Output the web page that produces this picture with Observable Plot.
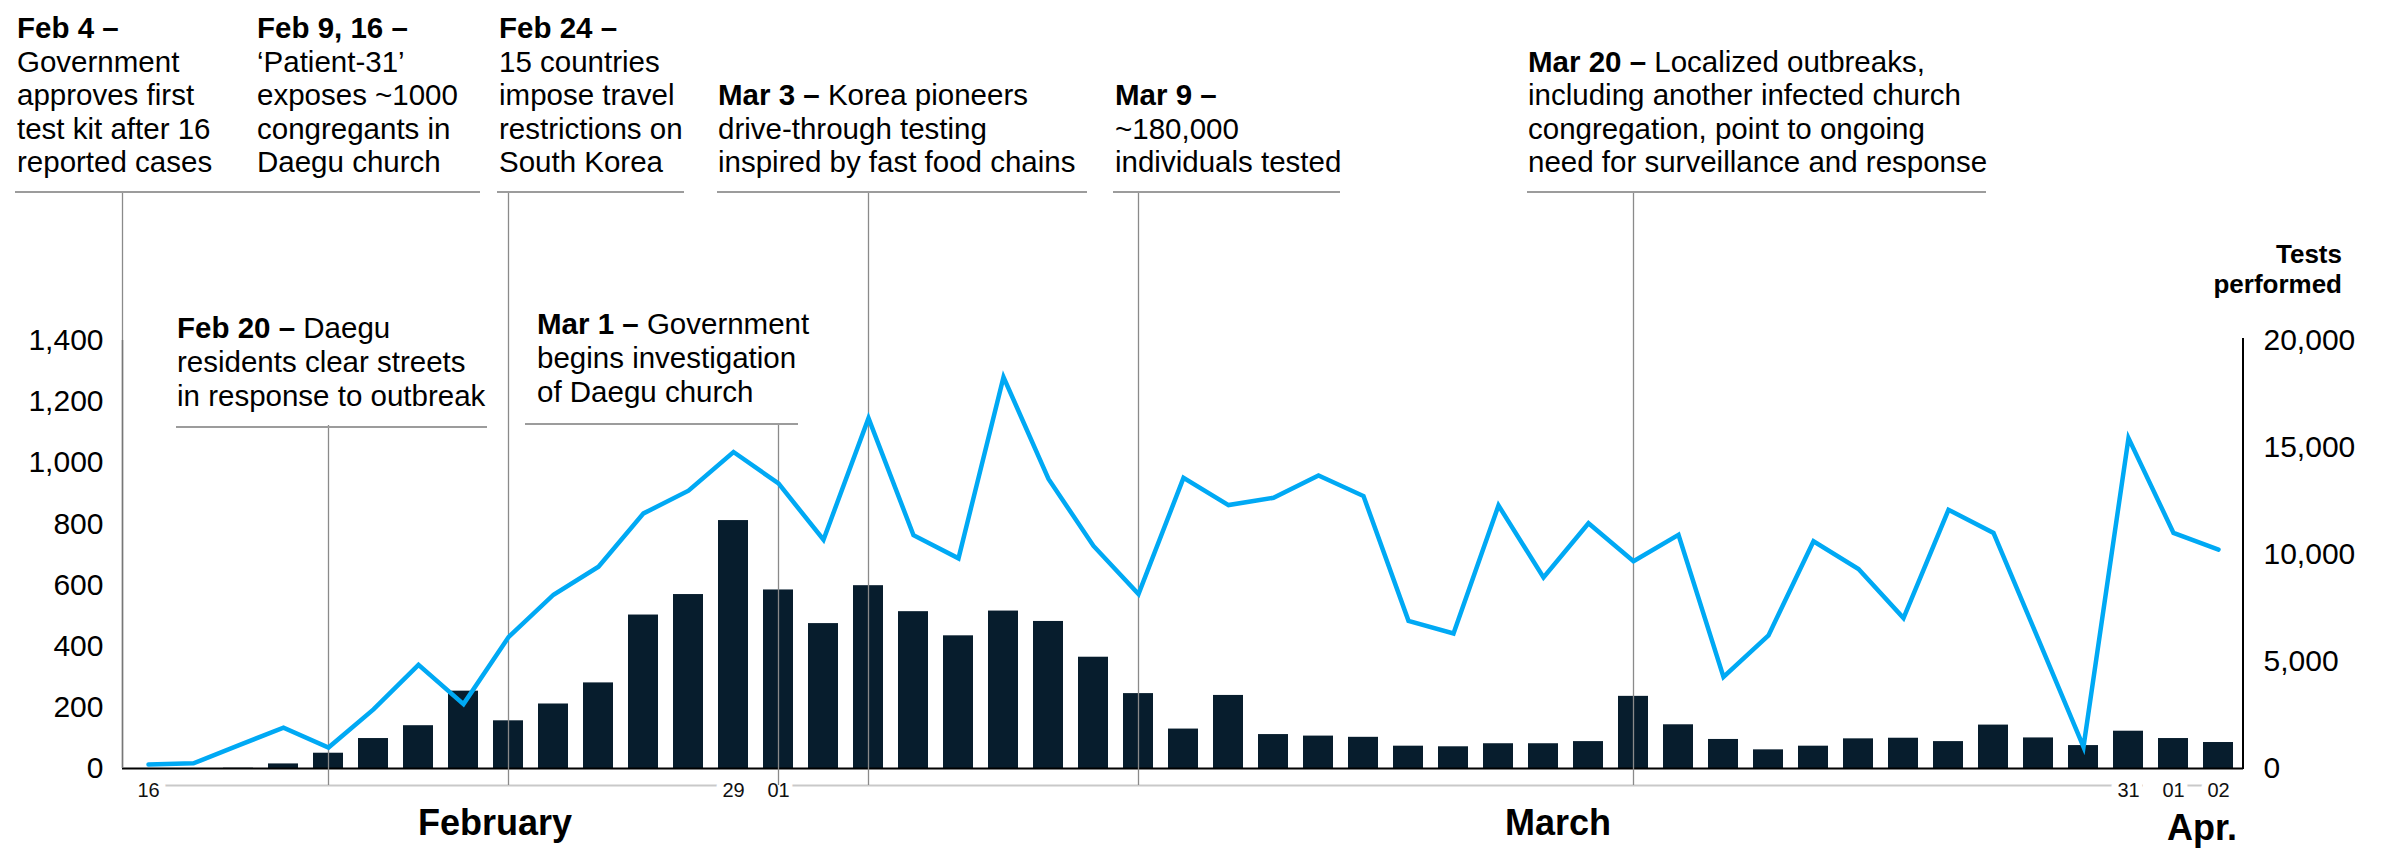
<!DOCTYPE html>
<html>
<head>
<meta charset="utf-8">
<script src="https://cdn.jsdelivr.net/npm/d3@7"></script>
<script src="https://cdn.jsdelivr.net/npm/@observablehq/plot@0.6"></script>
<style>
html, body { margin: 0; padding: 0; background: #fff; }
#chart { position: relative; width: 2382px; height: 848px; font-family: "Liberation Sans", Arial, sans-serif; }
#chart svg { position: absolute; left: 0; top: 0; }
#chart svg text { paint-order: stroke; }
</style>
</head>
<body>
<div id="chart"></div>
<script>
// ---------- data ----------
const dates = [
  "Feb 16","Feb 17","Feb 18","Feb 19","Feb 20","Feb 21","Feb 22","Feb 23","Feb 24","Feb 25","Feb 26","Feb 27","Feb 28","Feb 29",
  "Mar 1","Mar 2","Mar 3","Mar 4","Mar 5","Mar 6","Mar 7","Mar 8","Mar 9","Mar 10","Mar 11","Mar 12","Mar 13","Mar 14","Mar 15",
  "Mar 16","Mar 17","Mar 18","Mar 19","Mar 20","Mar 21","Mar 22","Mar 23","Mar 24","Mar 25","Mar 26","Mar 27","Mar 28","Mar 29",
  "Mar 30","Mar 31","Apr 1","Apr 2"
];
const newCases = [
  0, 0, 1, 15, 50, 98, 140, 253, 156, 211, 280, 502, 569, 811,
  584, 474, 598, 513, 434, 515, 481, 364, 245, 129, 239, 111, 106, 102, 73,
  71, 81, 81, 88, 236, 143, 95, 61, 73, 97, 99, 88, 142, 100,
  75, 122, 98, 85
];
const testsPerformed = [
  190, 240, 1080, 1910, 980, 2760, 4840, 3010, 6140, 8120, 9430, 11920, 12980, 14790,
  13320, 10690, 16370, 10900, 9820, 18290, 13530, 10400, 8150, 13580, 12310, 12650, 13690, 12730, 6900,
  6310, 12290, 8930, 11460, 9690, 10920, 4280, 6220, 10620, 9320, 7030, 12090, 11010, 6020,
  1010, 15440, 11010, 10230
];
const caseTicks = [0, 200, 400, 600, 800, 1000, 1200, 1400];
const testTicks = [0, 5000, 10000, 15000, 20000];
const tickDates = ["Feb 16", "Feb 29", "Mar 1", "Mar 31", "Apr 1", "Apr 2"];
const tickLabels = ["16", "29", "01", "31", "01", "02"];
const monthStarts = ["Feb 16", "Mar 1", "Apr 1"];
const monthEnds = ["Feb 29", "Mar 31", "Apr 2"];
const monthNames = ["February", "March", "Apr."];
const topLeaderDates = ["Feb 24", "Mar 3", "Mar 9", "Mar 20"];
const midLeaderDates = ["Feb 20", "Mar 1"];
const annotations = [
  {lines: [[["Feb 4 –", true]], [["Government", false]], [["approves first", false]], [["test kit after 16", false]], [["reported cases", false]]]},
  {lines: [[["Feb 9, 16 –", true]], [["‘Patient-31’", false]], [["exposes ~1000", false]], [["congregants in", false]], [["Daegu church", false]]]},
  {lines: [[["Feb 24 –", true]], [["15 countries", false]], [["impose travel", false]], [["restrictions on", false]], [["South Korea", false]]]},
  {lines: [[["Mar 3 – ", true], ["Korea pioneers", false]], [["drive-through testing", false]], [["inspired by fast food chains", false]]]},
  {lines: [[["Mar 9 –", true]], [["~180,000", false]], [["individuals tested", false]]]},
  {lines: [[["Mar 20 – ", true], ["Localized outbreaks,", false]], [["including another infected church", false]], [["congregation, point to ongoing", false]], [["need for surveillance and response", false]]]},
  {lines: [[["Feb 20 – ", true], ["Daegu", false]], [["residents clear streets", false]], [["in response to outbreak", false]]]},
  {lines: [[["Mar 1 – ", true], ["Government", false]], [["begins investigation", false]], [["of Daegu church", false]]]}
];

// ---------- layout ----------
const W = 2382, H = 848;
const M = {top: 340, right: 139, bottom: 80, left: 122};
const FONT = '"Liberation Sans", Arial, sans-serif';
const BAR = "#071D2D", LINE = "#00A9F4", LEAD = "#8a8a8a", UNDER = "#9c9c9c";
// annotation text blocks: x, first baseline, line step
const annoLayout = [
  {x: 17, y: 38, step: 33.5}, {x: 257, y: 38, step: 33.5}, {x: 499, y: 38, step: 33.5},
  {x: 718, y: 105, step: 33.5}, {x: 1115, y: 105, step: 33.5}, {x: 1528, y: 71.5, step: 33.5},
  {x: 177, y: 338, step: 34}, {x: 537, y: 334, step: 34}
];
const underlines = [
  [15, 480, 192], [497, 684, 192], [717, 1087, 192], [1113, 1340, 192], [1527, 1986, 192],
  [176, 487, 427], [525, 798, 424]
];
const monthLabelPos = [[495, 835], [1558, 835], [2202, 840]];

const data = dates.map((d, i) => ({date: d, cases: newCases[i], tests: testsPerformed[i]}));
const ticks = tickDates.map((d, i) => ({date: d, label: tickLabels[i]}));
const spans = monthStarts.map((d, i) => ({start: d, end: monthEnds[i]}));

const xOpts = () => ({type: "band", domain: dates, paddingInner: 0.334, paddingOuter: 0.197, align: 0.5, axis: null});
const base = {
  width: W, height: H,
  marginTop: M.top, marginRight: M.right, marginBottom: M.bottom, marginLeft: M.left
};

const plotA = Plot.plot({
  ...base,
  style: {fontFamily: FONT, fontSize: "30px", color: "#000", background: "transparent", overflow: "visible"},
  x: xOpts(),
  y: {domain: [0, 1400], ticks: caseTicks, tickFormat: d3.format(","), tickSize: 0, tickPadding: 19, label: null},
  marks: [
    Plot.barY(data, {x: "date", y: "cases", fill: BAR}),
    Plot.ruleY([0], {stroke: "#000", strokeWidth: 2}),
    Plot.ruleY(spans, {x1: "start", x2: "end", y: () => 0, dy: 17, stroke: "#c9c9c9", strokeWidth: 2}),
    Plot.text(ticks, {x: "date", y: () => 0, text: "label", dy: 22, fontSize: 20, fill: "#111", stroke: "#fff", strokeWidth: 14}),
    Plot.ruleX(topLeaderDates, {x: d => d, insetTop: -148, insetBottom: -17, stroke: LEAD, strokeWidth: 1.3}),
    Plot.ruleX(midLeaderDates, {x: d => d, insetTop: 85, insetBottom: -17, stroke: LEAD, strokeWidth: 1.3})
  ]
});

const plotB = Plot.plot({
  ...base,
  style: {fontFamily: FONT, fontSize: "30px", color: "#000", background: "transparent", overflow: "visible"},
  x: xOpts(),
  y: {domain: [0, 20000], axis: "right", ticks: testTicks, tickFormat: d3.format(","), tickSize: 0, tickPadding: 20, label: null},
  marks: [
    Plot.line(data, {x: "date", y: "tests", stroke: LINE, strokeWidth: 4.5, strokeLinejoin: "miter", strokeMiterlimit: 4})
  ]
});

const chart = document.getElementById("chart");
chart.appendChild(plotA);
chart.appendChild(plotB);

// ---------- decorations ----------
const sa = d3.select(plotA);
const sb = d3.select(plotB);
const yA = plotA.scale("y");
const yTop = yA.apply(1400), yZero = yA.apply(0);

// left axis line + Feb 4 leader
sa.append("line").attr("x1", M.left + 0.5).attr("x2", M.left + 0.5).attr("y1", yTop).attr("y2", yZero)
  .attr("stroke", "#777").attr("stroke-width", 1.7);
sa.append("line").attr("x1", M.left + 0.5).attr("x2", M.left + 0.5).attr("y1", 192).attr("y2", yTop)
  .attr("stroke", LEAD).attr("stroke-width", 1.3);
// right axis line
sb.append("line").attr("x1", W - M.right).attr("x2", W - M.right).attr("y1", yTop - 2).attr("y2", yZero + 1)
  .attr("stroke", "#000").attr("stroke-width", 2);

// underlines
underlines.forEach(([x1, x2, y]) => {
  sa.append("line").attr("x1", x1).attr("x2", x2).attr("y1", y).attr("y2", y)
    .attr("stroke", UNDER).attr("stroke-width", 1.8);
});

// annotation texts
annotations.forEach((a, k) => {
  const L = annoLayout[k];
  a.lines.forEach((parts, j) => {
    const t = sa.append("text").attr("x", L.x).attr("y", L.y + j * L.step)
      .attr("text-anchor", "start")
      .attr("font-family", FONT).attr("font-size", 29.5).attr("fill", "#000");
    parts.forEach(([s, bold]) => {
      t.append("tspan").attr("font-weight", bold ? "bold" : "normal").text(s);
    });
  });
});

// month names
monthNames.forEach((m, i) => {
  sa.append("text").attr("x", monthLabelPos[i][0]).attr("y", monthLabelPos[i][1])
    .attr("text-anchor", "middle").attr("font-family", FONT).attr("font-size", 36)
    .attr("font-weight", "bold").attr("fill", "#000").text(m);
});

// right axis title
["Tests", "performed"].forEach((s, i) => {
  sb.append("text").attr("x", 2342).attr("y", 263 + i * 30).attr("text-anchor", "end")
    .attr("font-family", FONT).attr("font-size", 26).attr("font-weight", "bold").attr("fill", "#000").text(s);
});
</script>
</body>
</html>
